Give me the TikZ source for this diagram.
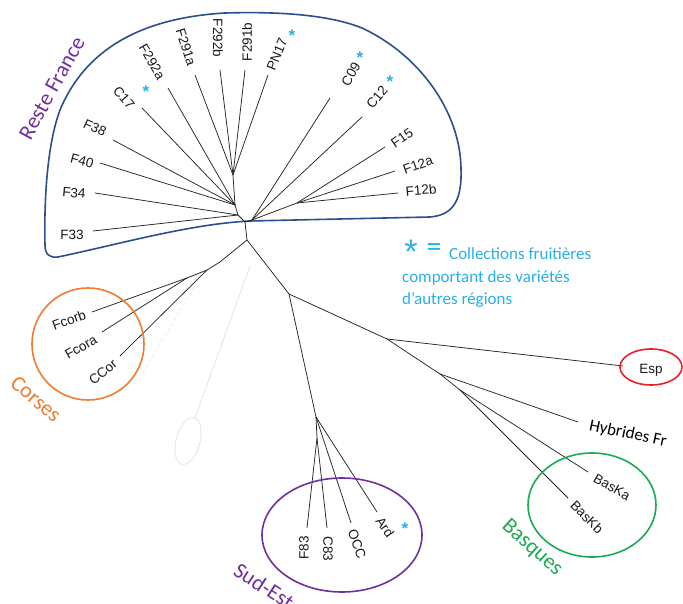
\documentclass[tikz,border=0pt]{standalone}
\usepackage{fontspec}
\setmainfont{Liberation Sans}
\newfontfamily\calib{Carlito}
\definecolor{rfblue}{HTML}{2E4F8F}
\definecolor{purp}{HTML}{7030A0}
\definecolor{orng}{HTML}{ED7D31}
\definecolor{grn}{HTML}{1DAA55}
\definecolor{redc}{HTML}{E8202A}
\definecolor{cyanc}{HTML}{2AB0E8}
\tikzset{
  branch/.style={draw=black!85, line width=0.75pt},
  leaf/.style={font=\fontsize{13.5}{14}\selectfont, inner sep=0pt, text=black!90},
  cstar/.style={text=cyanc, font=\fontsize{17}{17}\selectfont\bfseries, inner sep=0pt},
  grp/.style={font=\calib\fontsize{22}{24}\selectfont, inner sep=0pt},
  legend/.style={font=\calib\fontsize{17}{19}\selectfont, text=cyanc, inner sep=0pt, anchor=west},
  faint/.style={draw=gray!22, line width=0.8pt}
}
\begin{document}
\begin{tikzpicture}[x=1pt,y=-1pt]
\useasboundingbox (0,0) rectangle (683,604);
\fill[white] (0,0) rectangle (683,604);

% faint grey traces
\coordinate (g1) at (250,266);
\coordinate (g2) at (195,418);
\draw[faint] (g1) -- (g2);
\draw[faint] (188,441) ellipse [x radius=12pt, y radius=24pt, rotate=-15];
\coordinate (g3) at (197,282);
\coordinate (g4) at (143,373);
\draw[faint, draw=gray!14, dashed] (g3) -- (g4);

% Reste France outline
\draw[rfblue, line width=1.6pt] (58,257)
  .. controls (120,244) and (190,224) .. (250,221)
  -- (430,217)
  .. controls (455,215) and (462,198) .. (461,168)
  .. controls (460,112) and (420,55) .. (362,28)
  .. controls (322,12) and (262,12) .. (225,13)
  .. controls (140,18) and (85,50) .. (60,110)
  .. controls (47,145) and (44,200) .. (45,245)
  .. controls (45,255) and (50,258) .. (58,257) -- cycle;

% internal nodes
\coordinate (H) at (245,222);
\coordinate (L) at (238,215);
\coordinate (L1) at (235,205);
\coordinate (T) at (233,175);
\coordinate (R) at (252,220);
\coordinate (R2) at (297,203);
\coordinate (J1) at (247,240);
\coordinate (C1) at (220,262);
\coordinate (C2) at (207,270);
\coordinate (C3) at (187,278);
\coordinate (J2) at (289,294);
\coordinate (S1) at (316,417);
\coordinate (S2) at (317,438);
\coordinate (J3) at (387,339);
\coordinate (J4) at (440,374);
\coordinate (J5) at (460,390);

% leaf ends
\coordinate (eF33) at (93,231);
\coordinate (eF34) at (95,193);
\coordinate (eF40) at (100,163);
\coordinate (eF38) at (113,140);
\coordinate (eC17) at (142,108);
\coordinate (eF292a) at (168,88);
\coordinate (eF291a) at (195,75);
\coordinate (eF292b) at (220,70);
\coordinate (eF291b) at (245,70);
\coordinate (ePN17) at (268,75);
\coordinate (eC09) at (330,98);
\coordinate (eC12) at (362,117);
\coordinate (eF15) at (385,147);
\coordinate (eF12a) at (395,171);
\coordinate (eF12b) at (398,193);
\coordinate (eFcorb) at (92,312);
\coordinate (eFcora) at (102,332);
\coordinate (eCCor) at (120,356);
\coordinate (eF83) at (307,528);
\coordinate (eC83) at (327,528);
\coordinate (eOCC) at (351,523);
\coordinate (eArd) at (377,512);
\coordinate (eEsp) at (623,366);
\coordinate (eHyb) at (578,422);
\coordinate (eBasKa) at (588,472);
\coordinate (eBasKb) at (568,498);

% branches
\draw[branch] (H) -- (L);
\draw[branch] (L) -- (eF33);
\draw[branch] (L) -- (eF34);
\draw[branch] (L) -- (L1);
\draw[branch] (L1) -- (eF40);
\draw[branch] (L1) -- (eF38);
\draw[branch] (L1) -- (eC17);
\draw[branch] (L1) -- (eF292a);
\draw[branch] (L1) -- (T);
\draw[branch] (T) -- (eF291a);
\draw[branch] (T) -- (eF292b);
\draw[branch] (T) -- (eF291b);
\draw[branch] (T) -- (ePN17);
\draw[branch] (H) -- (R);
\draw[branch] (R) -- (eC09);
\draw[branch] (R) -- (eC12);
\draw[branch] (R) -- (R2);
\draw[branch] (R2) -- (eF15);
\draw[branch] (R2) -- (eF12a);
\draw[branch] (R2) -- (eF12b);
\draw[branch] (H) -- (J1);
\draw[branch] (J1) -- (C1);
\draw[branch] (C1) -- (C2);
\draw[branch] (C2) -- (eCCor);
\draw[branch] (C2) -- (C3);
\draw[branch] (C3) -- (eFcorb);
\draw[branch] (C3) -- (eFcora);
\draw[branch] (J1) -- (J2);
\draw[branch] (J2) -- (S1);
\draw[branch] (S1) -- (eArd);
\draw[branch] (S1) -- (eOCC);
\draw[branch] (S1) -- (S2);
\draw[branch] (S2) -- (eF83);
\draw[branch] (S2) -- (eC83);
\draw[branch] (J2) -- (J3);
\draw[branch] (J3) -- (eEsp);
\draw[branch] (J3) -- (J4);
\draw[branch] (J4) -- (eHyb);
\draw[branch] (J4) -- (J5);
\draw[branch] (J5) -- (eBasKa);
\draw[branch] (J5) -- (eBasKb);

% leaf labels: Reste France
\node[leaf] (F33) at (72,235) {F33};
\node[leaf, rotate=-5] (F34) at (74,193) {F34};
\node[leaf, rotate=-15] (F40) at (82,161) {F40};
\node[leaf, rotate=-25] (F38) at (95,128) {F38};
\node[leaf, rotate=-50] (C17) at (124,98) {C17};
\node[leaf, rotate=-60] (F292a) at (152,62) {F292a};
\node[leaf, rotate=-72] (F291a) at (186,47) {F291a};
\node[leaf, rotate=-90] (F292b) at (218,38) {F292b};
\node[leaf, rotate=90] (F291b) at (247,42) {F291b};
\node[leaf, rotate=68] (PN17) at (277,54) {PN17};
\node[leaf, rotate=60] (C09) at (351,74) {C09};
\node[leaf, rotate=50] (C12) at (377,97) {C12};
\node[leaf, rotate=35] (F15) at (402,138) {F15};
\node[leaf, rotate=20] (F12a) at (418,165) {F12a};
\node[leaf, rotate=5] (F12b) at (421,190) {F12b};
\node[cstar] (sC17) at (146,92) {*};
\node[cstar] (sPN17) at (292,36) {*};
\node[cstar] (sC09) at (360,58) {*};
\node[cstar] (sC12) at (390,82) {*};

% Corses
\draw[orng, line width=1.6pt] (88,344) circle [radius=56pt];
\node[leaf, rotate=20] (Fcorb) at (69,320) {Fcorb};
\node[leaf, rotate=30] (Fcora) at (81,347) {Fcora};
\node[leaf, rotate=40] (CCor) at (103,372) {CCor};
\node[grp, text=orng, rotate=-41] (corses) at (36,399) {Corses};

% Sud-Est
\draw[purp, line width=1.6pt] (342,535) ellipse [x radius=80pt, y radius=57pt];
\node[leaf, rotate=90] (F83) at (304,548) {F83};
\node[leaf, rotate=-90] (C83) at (328,549) {C83};
\node[leaf, rotate=-70] (OCC) at (357,544) {OCC};
\node[leaf, rotate=-55] (Ard) at (385,527) {Ard};
\node[cstar] (sArd) at (405,529) {*};
\node[grp, text=purp, rotate=-33] (sudest) at (264,586) {Sud-Est};

% Esp
\draw[redc, line width=1.6pt] (651,367) ellipse [x radius=31pt, y radius=18pt];
\node[leaf] (Esp) at (651,370) {Esp};

% Hybrides
\node[font=\calib\fontsize{17}{19}\selectfont, inner sep=0pt, rotate=-12] (Hyb) at (628,434) {Hybrides Fr};

% Basques
\draw[grn, line width=1.6pt] (592,505) ellipse [x radius=64pt, y radius=52pt];
\node[leaf, rotate=-30] (BasKa) at (612,487) {BasKa};
\node[leaf, rotate=-45] (BasKb) at (587,517) {BasKb};
\node[grp, text=grn, rotate=-42] (basques) at (532,548) {Basques};

% Reste France label
\node[grp, text=purp, rotate=61] (rf) at (52,88) {Reste France};

% legend
\node[text=cyanc, font=\fontsize{34}{34}\selectfont, inner sep=0pt] (lstar) at (411,252) {*};
\node[text=cyanc, font=\calib\fontsize{30}{30}\selectfont, inner sep=0pt] (leq) at (434,250) {=};
\node[legend] (l1) at (449,254) {Collections fruitières};
\node[legend] (l2) at (402,278) {comportant des variétés};
\node[legend] (l3) at (402,300) {d’autres régions};
\end{tikzpicture}
\end{document}
